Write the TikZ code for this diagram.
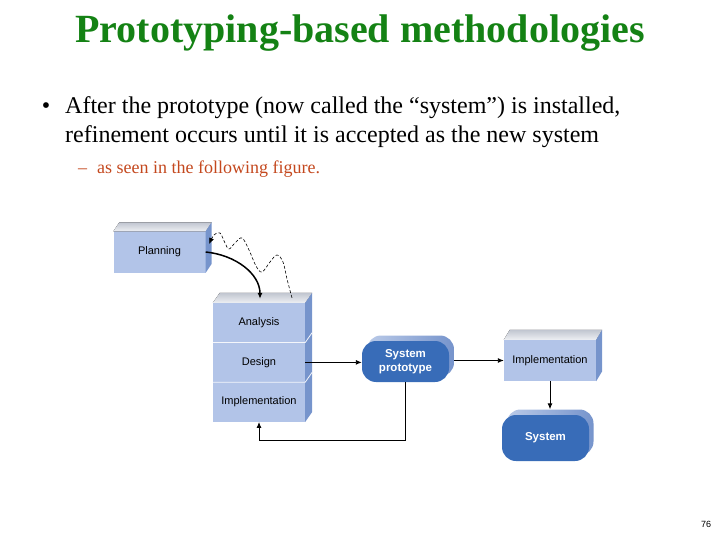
\documentclass[tikz,border=0pt]{standalone}
\usepackage{fontspec}
\setmainfont{Liberation Serif}
\newfontfamily\labelfont{Liberation Sans}
\usetikzlibrary{arrows}
\usetikzlibrary{arrows.meta}
\usetikzlibrary{positioning}
\definecolor{tgreen}{RGB}{20,130,20}
\definecolor{nred}{RGB}{196,72,30}
\definecolor{bfront}{RGB}{178,196,232}
\definecolor{bside}{RGB}{118,148,204}
\definecolor{btop}{RGB}{204,210,222}
\definecolor{sblue}{RGB}{56,108,184}
\definecolor{srim}{RGB}{186,202,232}
\tikzset{face/.style = {fill=bfront, inner sep=0, minimum width=92bp, font=\labelfont\fontsize{11bp}{13bp}\selectfont}}
\tikzset{topface/.style = {top color=btop!85!gray, bottom color=btop!35!white}}
\tikzset{sideface/.style = {fill=bside}}
\tikzset{pill/.style = {fill=sblue, rounded corners=14bp, inner sep=0, minimum width=87bp, text=white, align=center, font=\labelfont\bfseries\fontsize{11.5bp}{14bp}\selectfont}}
\tikzset{rim/.style = {left color=srim, right color=bside, rounded corners=14bp, inner sep=0, minimum width=87bp}}
\tikzset{flow/.style = {-{Latex[length=6bp, width=5bp]}, line width=0.9bp}}

\begin{document}
\begin{tikzpicture}[x=1bp, y=-1bp]
    \useasboundingbox (0,0) rectangle (720,540);
    % heading and bullet text
    \node [text=tgreen, font=\bfseries\fontsize{40bp}{48bp}\selectfont] (title) at (360,33) {Prototyping-based methodologies};
    \node [anchor=base, font=\fontsize{24bp}{29bp}\selectfont] (dot) at (46,114) {\textbullet};
    \node [anchor=base west, inner sep=0, font=\fontsize{24bp}{29bp}\selectfont] (line1) at (65,114) {After the prototype (now called the “system”) is installed,};
    \node [anchor=base west, inner sep=0, font=\fontsize{24bp}{29bp}\selectfont] (line2) at (65,143) {refinement occurs until it is accepted as the new system};
    \node [anchor=base west, inner sep=0, text=nred, font=\fontsize{18bp}{22bp}\selectfont] (dash) at (78,174) {–};
    \node [anchor=base west, inner sep=0, text=nred, font=\fontsize{18bp}{22bp}\selectfont] (line3) at (97,174) {as seen in the following figure.};

    % planning box
    \node [face, minimum height=41bp] (plan) at (159.5,252) {Planning};
    \fill [topface] (plan.north west) -- ++(6,-9) -- ([shift={(6,-9)}]plan.north east) -- (plan.north east) -- cycle;
    \fill [sideface] (plan.north east) -- ++(6,-9) -- ([shift={(6,-9)}]plan.south east) -- (plan.south east) -- cycle;

    % analysis / design / implementation stack
    \node [face, minimum height=39.3bp] (ana) at (259,322.7) {Analysis};
    \node [face, minimum height=39.3bp, below=0pt of ana] (des) {Design};
    \node [face, minimum height=39.3bp, below=0pt of des] (imp) {Implementation};
    \fill [topface] (ana.north west) -- ++(7,-10) -- ([shift={(7,-10)}]ana.north east) -- (ana.north east) -- cycle;
    \fill [sideface] (ana.north east) -- ++(7,-10) -- ([shift={(7,-10)}]imp.south east) -- (imp.south east) -- cycle;
    \draw [white!85!bfront, thick] (ana.south west) -- (ana.south east) -- ++(7,-10);
    \draw [white!85!bfront, thick] (des.south west) -- (des.south east) -- ++(7,-10);

    % implementation box on the right
    \node [face, minimum height=41bp] (impr) at (550,360.5) {Implementation};
    \fill [topface] (impr.north west) -- ++(6,-10) -- ([shift={(6,-10)}]impr.north east) -- (impr.north east) -- cycle;
    \fill [sideface] (impr.north east) -- ++(6,-10) -- ([shift={(6,-10)}]impr.south east) -- (impr.south east) -- cycle;

    % rounded boxes
    \node [rim, minimum height=41bp] (sysrim) at (410.5,356) {};
    \node [pill, minimum height=41bp] (sysp) at (405.5,361.5) {System\\prototype};
    \node [rim, minimum height=46bp] (sysrim2) at (550,432.5) {};
    \node [pill, minimum height=46bp] (sys) at (545.5,438) {System};

    % connectors
    \draw [flow] (des.east) -- (des.east -| sysp.west);
    \draw [flow] (sysrim.east |- impr.west) -- (impr.west);
    \coordinate (back) at (259,440);
    \draw [flow] (sysp.south) |- (back) -- (imp.south);
    \draw [flow] (impr.south) -- (impr.south |- sysrim2.north);
    \draw [flow, line width=1.5bp] (plan.east) .. controls +(30,3) and +(0,-25) .. ([shift={(1,-4)}]ana.north);
    \draw [flow, line width=0.6bp, dash pattern=on 3bp off 2bp] plot [smooth, tension=0.6] coordinates {([shift={(33,-5)}]ana.north) (287,279) (283,262) (277,255) (270,262) (262,272) (256,266) (249,250) (242,238) (235,243) (229,249) (225,243) (220,233) (214,235) ([shift={(3.5,-8)}]plan.east)};

    \node [font=\labelfont\fontsize{9bp}{11bp}\selectfont] (page) at (706,524) {76};
  \end{tikzpicture}
\end{document}
